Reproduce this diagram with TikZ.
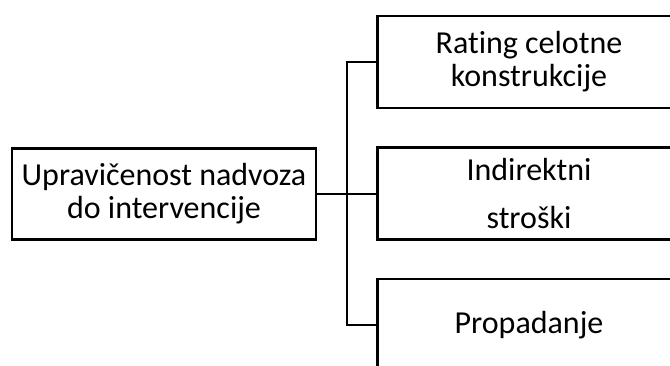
\documentclass[tikz,border=0pt]{standalone}
\usepackage{fontspec}
\setmainfont[Ligatures=NoCommon]{Carlito}
\begin{document}
\begin{tikzpicture}[x=1pt,y=-1pt,
  box/.style={draw,line width=2.6pt,inner sep=0pt,align=center,
    font=\fontsize{32}{33}\selectfont},
  rootbox/.style={box,minimum width=304pt,minimum height=91pt},
  leafbox/.style={box,minimum width=303pt,minimum height=92pt},
  link/.style={line width=2.6pt}]
\useasboundingbox (0,0) rectangle (670,365);
\clip (0,0) rectangle (670,365);
% root of the tree
\node[rootbox] (root) at (164,194) {Upravičenost nadvoza\\do intervencije};
% the three factors
\node[leafbox] (c1) at (529,62) {Rating celotne\\konstrukcije};
\node[leafbox] (c2) at (529,193.5) {Indirektni\\[15pt]stroški};
\node[leafbox] (c3) at (529,325) {Propadanje};
% junction on the vertical trunk
\coordinate (j) at (347,194);
\draw[link] (root.east) -- (j);
\draw[link] (c1.west) -- (c1.west -| j) -- (c3.west -| j) -- (c3.west);
\draw[link] (j) -- (c2.west |- j);
\end{tikzpicture}
\end{document}
